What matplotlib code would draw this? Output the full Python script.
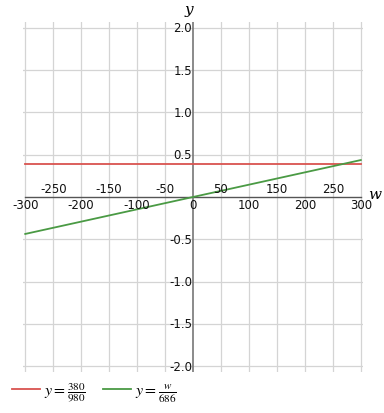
import matplotlib
matplotlib.use("Agg")
import matplotlib.pyplot as plt

plt.rcParams['mathtext.fontset'] = 'stix'

# data
w_vals = [-300, 300]
red_vals = [0.388, 0.388]
green_vals = [-0.437, 0.437]
x_ticks_below = [-300, -200, -100, 0, 100, 200, 300]
x_ticks_above = [-250, -150, -50, 50, 150, 250]
y_ticks = [2.0, 1.5, 1.0, 0.5, -0.5, -1.0, -1.5, -2.0]
x_grid = [-300, -250, -200, -150, -100, -50, 50, 100, 150, 200, 250, 300]
y_grid = [-2.0, -1.5, -1.0, -0.5, 0.5, 1.0, 1.5, 2.0]
legend_labels = [r'$y=\frac{380}{980}$', r'$y=\frac{w}{686}$']

fig = plt.figure(figsize=(3.84, 4.14), dpi=100)
ax = fig.add_axes([23/384, (414-373)/414, 340/384, 350/414])
ax.set_xlim(-304, 304)
ax.set_ylim(-2.07, 2.07)
for s in ax.spines.values():
    s.set_visible(False)
ax.set_xticks([])
ax.set_yticks([])

for g in x_grid:
    ax.axvline(g, color='#d4d4d4', lw=0.9, zorder=0)
for g in y_grid:
    ax.axhline(g, color='#d4d4d4', lw=0.9, zorder=0)

# axes lines
ax.plot([w_vals[0], w_vals[1]], [0, 0], color='#555555', lw=1.0, zorder=1)
ax.axvline(0, ymin=0.0, ymax=1.0, color='#777777', lw=1.2, zorder=1)

l1, = ax.plot(w_vals, red_vals, color='#d9534f', lw=1.3, zorder=3)
l2, = ax.plot(w_vals, green_vals, color='#4a9a44', lw=1.3, zorder=3)

fs = 8.5
tc = '#111111'
for t in x_ticks_below:
    ax.text(t, -0.01, f"{t}", ha='center', va='top', fontsize=fs, color=tc)
for t in x_ticks_above:
    ax.text(t, 0.02, f"{t}", ha='center', va='bottom', fontsize=fs, color=tc)
for t in y_ticks:
    ax.text(-1.5, t, f"{t:.1f}", ha='right', va='center', fontsize=fs, color=tc)

ax.text(-7, 2.22, 'y', fontsize=11, style='italic', family='DejaVu Serif',
        ha='center', va='center', clip_on=False)
ax.text(324, 0.04, 'w', fontsize=11, style='italic', family='DejaVu Serif',
        ha='center', va='center', clip_on=False)

fig.legend([l1, l2], legend_labels, loc='center left',
           bbox_to_anchor=(12/384, (414-393)/414), borderaxespad=0, borderpad=0,
           ncol=2, frameon=False, handlelength=1.75, fontsize=11.5,
           columnspacing=1.1, handletextpad=0.25)

fig.savefig('out.png', dpi=100)
